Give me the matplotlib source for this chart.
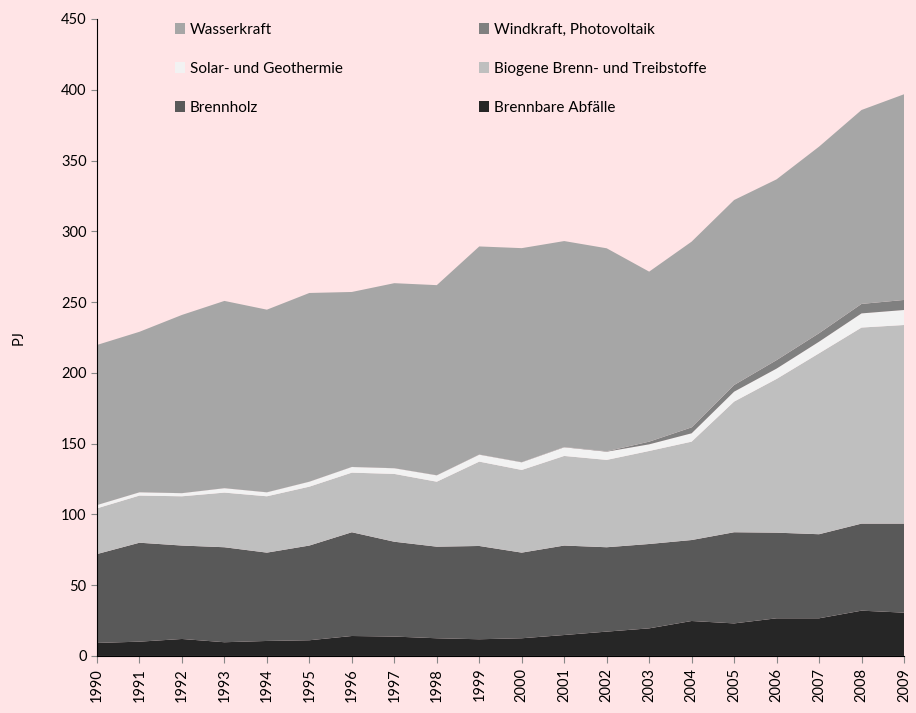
import matplotlib
matplotlib.use("Agg")
import matplotlib.pyplot as plt
from matplotlib.patches import Patch

plt.rcParams['font.family'] = ['Lato', 'DejaVu Sans']

years = list(range(1990, 2010))
abfaelle = [9.2, 10.1, 12.0, 9.7, 10.6, 11.1, 14.1, 13.7, 12.5, 11.8, 12.5, 14.8, 17.2, 19.5, 24.7, 23.0, 26.6, 26.6, 32.0, 30.6]
brennholz = [62.8, 69.9, 66.0, 67.1, 62.4, 66.9, 73.3, 67.0, 64.7, 65.9, 60.5, 63.2, 59.6, 59.6, 57.2, 64.4, 60.5, 59.4, 61.5, 62.9]
biogene = [32.3, 33.3, 34.8, 38.6, 39.8, 41.6, 42.1, 47.9, 45.9, 59.6, 58.4, 63.3, 61.7, 65.7, 69.5, 92.3, 108.6, 127.8, 138.5, 140.3]
solar = [2.3, 2.3, 2.2, 3.1, 2.8, 3.5, 4.0, 4.0, 4.5, 4.9, 5.4, 6.1, 5.8, 4.7, 5.9, 7.0, 7.3, 8.2, 10.0, 10.6]
wind = [0.01, 0.01, 0.02, 0.02, 0.03, 0.03, 0.04, 0.05, 0.06, 0.1, 0.1, 0.2, 0.3, 1.9, 4.2, 4.7, 6.0, 6.0, 6.7, 7.1]
wasser = [113.1, 113.4, 125.9, 132.3, 129.0, 133.3, 123.6, 130.7, 134.3, 147.0, 151.2, 145.5, 143.4, 120.1, 131.2, 130.7, 127.7, 131.8, 137.0, 145.3]

labels = ["Brennbare Abfälle", "Brennholz", "Biogene Brenn- und Treibstoffe",
          "Solar- und Geothermie", "Windkraft, Photovoltaik", "Wasserkraft"]
colors = ["#262626", "#595959", "#bfbfbf", "#f2f2f2", "#808080", "#a6a6a6"]

bg = "#ffe4e6"
fig = plt.figure(figsize=(9.16, 7.13), dpi=100, facecolor=bg)
ax = fig.add_axes([0.1059, 0.08, 0.881, 0.8934])
ax.set_facecolor(bg)

ax.stackplot(years, abfaelle, brennholz, biogene, solar, wind, wasser,
             colors=colors, linewidth=0)

ax.set_xlim(1990, 2009)
ax.set_ylim(0, 450)
ax.set_yticks(range(0, 451, 50))
ax.set_xticks(years)
ax.set_xticklabels([str(y) for y in years], rotation=90, fontsize=10.5)
ax.tick_params(axis='y', labelsize=10.5, length=4, color='#888888')
ax.tick_params(axis='x', length=5, color='#888888')
for s in ['top', 'right']:
    ax.spines[s].set_visible(False)
ax.spines['left'].set_color('black')
ax.spines['bottom'].set_color('black')
ax.set_ylabel("PJ", fontsize=10.5)
ax.yaxis.set_label_coords(-0.088, 0.5)

hmap = dict(zip(labels, colors))
order = ["Wasserkraft", "Solar- und Geothermie", "Brennholz",
         "Windkraft, Photovoltaik", "Biogene Brenn- und Treibstoffe", "Brennbare Abfälle"]
handles = [Patch(facecolor=hmap[l], edgecolor='none') for l in order]
leg = ax.legend(handles, order, ncol=2, loc='upper left', bbox_to_anchor=(0.079, 1.016),
                frameon=False, fontsize=11, handlelength=0.7, handleheight=0.7,
                handletextpad=0.3, labelspacing=1.65, columnspacing=8.9)

fig.savefig("out.png", dpi=100, facecolor=bg)
